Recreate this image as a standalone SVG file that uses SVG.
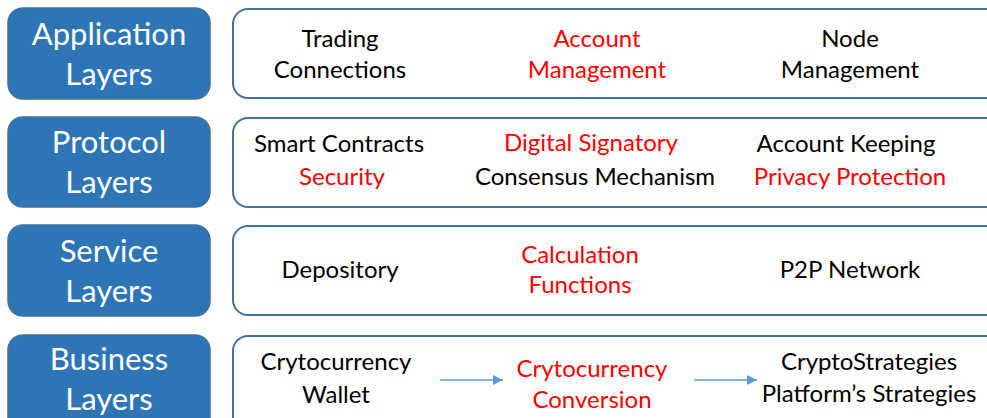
<svg xmlns="http://www.w3.org/2000/svg" width="987" height="418" viewBox="0 0 987 418">
  <defs>
    <style>
      .layer { fill: #2E75B6; stroke: #41719C; stroke-width: 1.5; }
      .panel { fill: #FFFFFF; stroke: #41719C; stroke-width: 2; }
      .title { font-family: Lato, "Open Sans", sans-serif; font-size: 31px; fill: #FFFFFF; text-anchor: middle; }
      .item { font-family: Lato, "Open Sans", sans-serif; font-size: 24px; fill: #000000; text-anchor: middle; }
      .hl { fill: #FF0000; }
      .flow { stroke: #5B9BD5; stroke-width: 1.5; fill: none; marker-end: url(#head); }
    </style>
    <marker id="head" viewBox="0 0 10 10" refX="10" refY="5" markerWidth="10" markerHeight="10" markerUnits="userSpaceOnUse" orient="auto">
      <path d="M0,0 L10,5 L0,10 Z" fill="#5B9BD5"/>
    </marker>
  </defs>

  <!-- Application layer -->
  <g id="application-layers">
    <rect class="layer" x="8" y="8" width="202" height="91" rx="15"/>
    <text class="title" x="109" y="45">Application</text>
    <text class="title" x="109" y="85">Layers</text>
  </g>
  <g id="application-panel">
    <rect class="panel" x="233" y="9" width="780" height="89" rx="15"/>
    <text class="item" x="340" y="47">Trading</text>
    <text class="item" x="340" y="78">Connections</text>
    <text class="item hl" x="597" y="47">Account</text>
    <text class="item hl" x="597" y="78">Management</text>
    <text class="item" x="850" y="47">Node</text>
    <text class="item" x="850" y="78">Management</text>
  </g>

  <!-- Protocol layer -->
  <g id="protocol-layers">
    <rect class="layer" x="8" y="117" width="202" height="90" rx="15"/>
    <text class="title" x="109" y="153">Protocol</text>
    <text class="title" x="109" y="193">Layers</text>
  </g>
  <g id="protocol-panel">
    <rect class="panel" x="233" y="118" width="780" height="89" rx="15"/>
    <text class="item" x="339" y="152">Smart Contracts</text>
    <text class="item hl" x="342" y="185">Security</text>
    <text class="item hl" x="591" y="151">Digital Signatory</text>
    <text class="item" x="595" y="185">Consensus Mechanism</text>
    <text class="item" x="846" y="152">Account Keeping</text>
    <text class="item hl" x="850" y="185">Privacy Protection</text>
  </g>

  <!-- Service layer -->
  <g id="service-layers">
    <rect class="layer" x="8" y="225" width="202" height="91" rx="15"/>
    <text class="title" x="109" y="262">Service</text>
    <text class="title" x="109" y="302">Layers</text>
  </g>
  <g id="service-panel">
    <rect class="panel" x="233" y="226" width="780" height="89" rx="15"/>
    <text class="item" x="340" y="278">Depository</text>
    <text class="item hl" x="580" y="263">Calculation</text>
    <text class="item hl" x="580" y="293">Functions</text>
    <text class="item" x="850" y="278">P2P Network</text>
  </g>

  <!-- Business layer -->
  <g id="business-layers">
    <rect class="layer" x="8" y="335" width="202" height="100" rx="15"/>
    <text class="title" x="109" y="370">Business</text>
    <text class="title" x="109" y="410">Layers</text>
  </g>
  <g id="business-panel">
    <rect class="panel" x="233" y="336" width="780" height="100" rx="15"/>
    <text class="item" x="336" y="370">Crytocurrency</text>
    <text class="item" x="336" y="403">Wallet</text>
    <text class="item hl" x="592" y="377">Crytocurrency</text>
    <text class="item hl" x="592" y="408">Conversion</text>
    <text class="item" x="869" y="370">CryptoStrategies</text>
    <text class="item" x="869" y="402">Platform’s Strategies</text>
  </g>

  <!-- Flow between business items -->
  <g id="connectors">
    <line class="flow" x1="440" y1="380" x2="503" y2="380"/>
    <line class="flow" x1="694" y1="380" x2="757" y2="380"/>
  </g>
</svg>
